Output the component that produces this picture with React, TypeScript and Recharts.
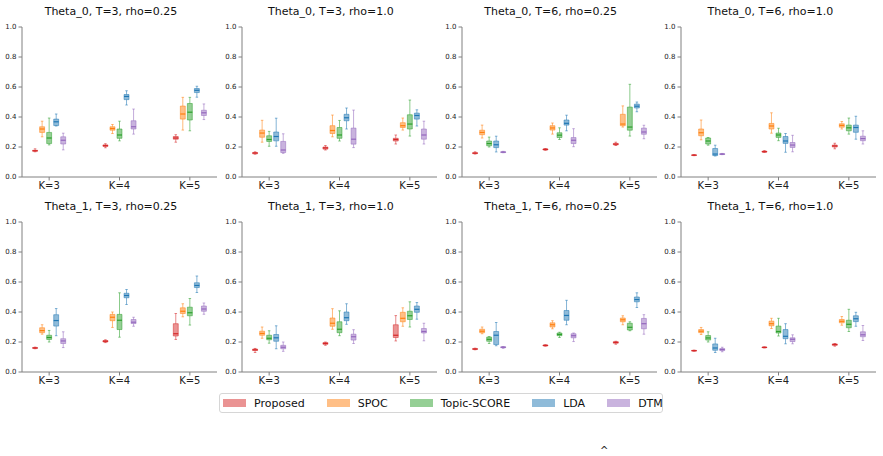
import React from 'react';
import {
  ComposedChart,
  XAxis,
  YAxis,
  Scatter,
  ReferenceArea,
  ReferenceLine,
} from 'recharts';

// methods, colours and axis labels
const methods = ['Proposed', 'SPOC', 'Topic-SCORE', 'LDA', 'DTM'];
const colors = ['#d62728', '#ff7f0e', '#2ca02c', '#1f77b4', '#9467bd'];
const kLabels = ['K=3', 'K=4', 'K=5'];
const yTicks = [0, 0.2, 0.4, 0.6, 0.8, 1.0];

// box stats per K group: one [min, q1, median, q3, max] per method
const theta0_T3_rho025 = [
  [[0.168, 0.172, 0.175, 0.178, 0.188], [0.268, 0.297, 0.32, 0.335, 0.372], [0.214, 0.223, 0.26, 0.297, 0.393], [0.34, 0.343, 0.368, 0.386, 0.42], [0.181, 0.22, 0.245, 0.268, 0.292]],
  [[0.195, 0.204, 0.209, 0.214, 0.222], [0.29, 0.312, 0.323, 0.335, 0.35], [0.241, 0.258, 0.28, 0.32, 0.372], [0.48, 0.516, 0.537, 0.55, 0.575], [0.286, 0.32, 0.335, 0.375, 0.453]],
  [[0.232, 0.252, 0.26, 0.27, 0.282], [0.313, 0.386, 0.42, 0.473, 0.531], [0.308, 0.38, 0.432, 0.49, 0.531], [0.532, 0.563, 0.578, 0.59, 0.605], [0.383, 0.41, 0.428, 0.445, 0.487]],
];
const theta0_T3_rho10 = [
  [[0.152, 0.155, 0.16, 0.163, 0.168], [0.232, 0.265, 0.293, 0.313, 0.378], [0.205, 0.237, 0.25, 0.275, 0.304], [0.205, 0.241, 0.27, 0.3, 0.392], [0.158, 0.163, 0.18, 0.237, 0.288]],
  [[0.18, 0.186, 0.194, 0.2, 0.21], [0.268, 0.29, 0.31, 0.342, 0.413], [0.24, 0.258, 0.28, 0.33, 0.377], [0.32, 0.375, 0.395, 0.418, 0.46], [0.196, 0.219, 0.252, 0.326, 0.446]],
  [[0.22, 0.24, 0.25, 0.258, 0.28], [0.313, 0.33, 0.342, 0.362, 0.393], [0.273, 0.32, 0.353, 0.415, 0.513], [0.34, 0.386, 0.41, 0.426, 0.448], [0.22, 0.252, 0.28, 0.32, 0.372]],
];
const theta0_T6_rho025 = [
  [[0.153, 0.156, 0.159, 0.162, 0.168], [0.26, 0.282, 0.297, 0.312, 0.346], [0.2, 0.208, 0.223, 0.24, 0.266], [0.167, 0.196, 0.215, 0.24, 0.272], [0.162, 0.163, 0.166, 0.168, 0.171]],
  [[0.178, 0.18, 0.184, 0.187, 0.19], [0.286, 0.313, 0.327, 0.342, 0.36], [0.25, 0.263, 0.279, 0.295, 0.328], [0.308, 0.346, 0.358, 0.38, 0.412], [0.202, 0.223, 0.245, 0.263, 0.322]],
  [[0.21, 0.214, 0.219, 0.224, 0.232], [0.333, 0.342, 0.353, 0.418, 0.474], [0.273, 0.312, 0.333, 0.466, 0.618], [0.435, 0.46, 0.472, 0.486, 0.5], [0.255, 0.285, 0.3, 0.326, 0.345]],
];
const theta0_T6_rho10 = [
  [[0.142, 0.144, 0.146, 0.147, 0.149], [0.248, 0.275, 0.295, 0.32, 0.38], [0.212, 0.22, 0.24, 0.26, 0.263], [0.14, 0.143, 0.153, 0.19, 0.212], [0.149, 0.15, 0.153, 0.155, 0.157]],
  [[0.164, 0.166, 0.169, 0.172, 0.176], [0.292, 0.32, 0.34, 0.357, 0.428], [0.242, 0.264, 0.28, 0.293, 0.325], [0.165, 0.224, 0.24, 0.27, 0.29], [0.168, 0.197, 0.213, 0.23, 0.278]],
  [[0.188, 0.2, 0.207, 0.213, 0.225], [0.32, 0.332, 0.344, 0.355, 0.37], [0.286, 0.308, 0.328, 0.346, 0.393], [0.252, 0.298, 0.33, 0.346, 0.405], [0.22, 0.242, 0.256, 0.272, 0.308]],
];
const theta1_T3_rho025 = [
  [[0.155, 0.158, 0.16, 0.163, 0.166], [0.252, 0.262, 0.276, 0.295, 0.315], [0.2, 0.217, 0.23, 0.245, 0.277], [0.242, 0.306, 0.343, 0.382, 0.423], [0.163, 0.19, 0.207, 0.222, 0.268]],
  [[0.196, 0.2, 0.205, 0.21, 0.215], [0.297, 0.342, 0.365, 0.384, 0.4], [0.232, 0.283, 0.345, 0.384, 0.528], [0.45, 0.495, 0.51, 0.525, 0.55], [0.305, 0.323, 0.332, 0.35, 0.365]],
  [[0.217, 0.24, 0.255, 0.322, 0.39], [0.368, 0.39, 0.405, 0.428, 0.455], [0.313, 0.375, 0.395, 0.432, 0.49], [0.53, 0.563, 0.577, 0.595, 0.64], [0.385, 0.405, 0.42, 0.44, 0.46]],
];
const theta1_T3_rho10 = [
  [[0.13, 0.143, 0.148, 0.153, 0.157], [0.225, 0.245, 0.257, 0.272, 0.3], [0.192, 0.215, 0.225, 0.245, 0.275], [0.155, 0.205, 0.228, 0.25, 0.308], [0.138, 0.155, 0.165, 0.178, 0.2]],
  [[0.178, 0.185, 0.19, 0.196, 0.2], [0.285, 0.305, 0.325, 0.36, 0.422], [0.242, 0.262, 0.285, 0.335, 0.408], [0.318, 0.342, 0.362, 0.4, 0.455], [0.19, 0.213, 0.235, 0.252, 0.282]],
  [[0.207, 0.23, 0.245, 0.315, 0.376], [0.305, 0.335, 0.358, 0.398, 0.428], [0.3, 0.35, 0.375, 0.405, 0.468], [0.352, 0.398, 0.418, 0.44, 0.463], [0.208, 0.26, 0.27, 0.29, 0.325]],
];
const theta1_T6_rho025 = [
  [[0.148, 0.151, 0.153, 0.156, 0.159], [0.255, 0.262, 0.272, 0.285, 0.3], [0.19, 0.205, 0.218, 0.233, 0.236], [0.175, 0.183, 0.245, 0.27, 0.33], [0.158, 0.162, 0.165, 0.168, 0.17]],
  [[0.172, 0.174, 0.177, 0.18, 0.182], [0.288, 0.3, 0.315, 0.328, 0.342], [0.23, 0.242, 0.25, 0.26, 0.265], [0.315, 0.345, 0.377, 0.41, 0.478], [0.203, 0.228, 0.242, 0.255, 0.26]],
  [[0.185, 0.192, 0.197, 0.202, 0.205], [0.315, 0.335, 0.348, 0.36, 0.375], [0.275, 0.28, 0.298, 0.325, 0.335], [0.43, 0.468, 0.483, 0.5, 0.528], [0.252, 0.288, 0.322, 0.357, 0.382]],
];
const theta1_T6_rho10 = [
  [[0.139, 0.14, 0.142, 0.144, 0.146], [0.25, 0.262, 0.272, 0.283, 0.297], [0.2, 0.213, 0.227, 0.243, 0.268], [0.13, 0.145, 0.16, 0.187, 0.225], [0.135, 0.143, 0.15, 0.156, 0.165]],
  [[0.16, 0.162, 0.164, 0.166, 0.168], [0.29, 0.308, 0.322, 0.339, 0.358], [0.24, 0.26, 0.27, 0.306, 0.358], [0.188, 0.222, 0.238, 0.283, 0.322], [0.188, 0.203, 0.218, 0.228, 0.248]],
  [[0.172, 0.178, 0.183, 0.187, 0.19], [0.312, 0.328, 0.338, 0.35, 0.37], [0.27, 0.295, 0.318, 0.345, 0.418], [0.305, 0.336, 0.355, 0.375, 0.398], [0.21, 0.235, 0.248, 0.268, 0.31]],
];

const panels = [
  { title: 'Theta_0, T=3, rho=0.25', stats: theta0_T3_rho025 },
  { title: 'Theta_0, T=3, rho=1.0', stats: theta0_T3_rho10 },
  { title: 'Theta_0, T=6, rho=0.25', stats: theta0_T6_rho025 },
  { title: 'Theta_0, T=6, rho=1.0', stats: theta0_T6_rho10 },
  { title: 'Theta_1, T=3, rho=0.25', stats: theta1_T3_rho025 },
  { title: 'Theta_1, T=3, rho=1.0', stats: theta1_T3_rho10 },
  { title: 'Theta_1, T=6, rho=0.25', stats: theta1_T6_rho025 },
  { title: 'Theta_1, T=6, rho=1.0', stats: theta1_T6_rho10 },
];

const W = 220;
const H = 195;
const X_DOMAIN: [number, number] = [0.614, 3.386];
const SPREAD = 0.1;
const HALF = 0.035;
const CAP = 0.018;
const FONT = '"DejaVu Sans", sans-serif';
const FRAME = '#808080';

const MedianMark = (props: any) => {
  const { cx, cy, fill } = props;
  if (cx == null || cy == null) return null;
  return <line x1={cx - 2.5} x2={cx + 2.5} y1={cy} y2={cy} stroke={fill} strokeWidth={1.2} />;
};

function Panel({ title, stats, left, top }: { title: string; stats: number[][][]; left: number; top: number }) {
  const series = methods.map((_, mi) =>
    stats.map((group, ki) => {
      const [lo, q1, med, q3, hi] = group[mi];
      return { x: ki + 1 + (mi - 2) * SPREAD, lo, q1, med, q3, hi };
    })
  );

  const marks: React.ReactElement[] = [];
  series.forEach((pts, mi) => {
    const c = colors[mi];
    pts.forEach((p, ki) => {
      const k = `${mi}-${ki}`;
      marks.push(
        <ReferenceLine key={`wl${k}`} segment={[{ x: p.x, y: p.lo }, { x: p.x, y: p.q1 }]} stroke={c} strokeOpacity={0.55} />,
        <ReferenceLine key={`wh${k}`} segment={[{ x: p.x, y: p.q3 }, { x: p.x, y: p.hi }]} stroke={c} strokeOpacity={0.55} />,
        <ReferenceLine key={`cl${k}`} segment={[{ x: p.x - CAP, y: p.lo }, { x: p.x + CAP, y: p.lo }]} stroke={c} strokeOpacity={0.55} />,
        <ReferenceLine key={`ch${k}`} segment={[{ x: p.x - CAP, y: p.hi }, { x: p.x + CAP, y: p.hi }]} stroke={c} strokeOpacity={0.55} />,
        <ReferenceArea key={`b${k}`} x1={p.x - HALF} x2={p.x + HALF} y1={p.q1} y2={p.q3} fill={c} fillOpacity={0.5} stroke={c} strokeOpacity={0.5} />
      );
    });
  });

  return (
    <div style={{ position: 'absolute', left, top, width: W, height: H }}>
      <div
        style={{
          position: 'absolute',
          left: 0,
          width: 222,
          top: 5,
          textAlign: 'center',
          fontFamily: FONT,
          fontSize: 11,
          color: '#111',
          whiteSpace: 'nowrap',
        }}
      >
        {title}
      </div>
      <ComposedChart width={W} height={H} margin={{ top: 27, right: 3, bottom: 0, left: 0 }}>
        <XAxis
          type="number"
          dataKey="x"
          domain={X_DOMAIN}
          allowDataOverflow
          ticks={[1, 2, 3]}
          tickFormatter={(v: number) => kLabels[v - 1]}
          height={18}
          stroke={FRAME}
          tickSize={3.5}
          tickMargin={1}
          tick={{ fontSize: 10, fill: '#222', fontFamily: FONT }}
        />
        <XAxis xAxisId="top" orientation="top" type="number" domain={X_DOMAIN} allowDataOverflow tick={false} tickLine={false} height={0} stroke={FRAME} />
        <YAxis
          type="number"
          dataKey="med"
          domain={[0, 1]}
          allowDataOverflow
          ticks={yTicks}
          tickFormatter={(v: number) => v.toFixed(1)}
          width={22}
          stroke={FRAME}
          tickSize={3.5}
          tickMargin={2}
          tick={{ fontSize: 7, fill: '#222', fontFamily: FONT }}
        />
        <YAxis yAxisId="right" orientation="right" type="number" domain={[0, 1]} allowDataOverflow tick={false} tickLine={false} width={0} stroke={FRAME} />
        {marks}
        {series.map((pts, mi) => (
          <Scatter
            key={methods[mi]}
            name={methods[mi]}
            data={pts}
            dataKey="med"
            fill={colors[mi]}
            shape={MedianMark}
            isAnimationActive={false}
          />
        ))}
      </ComposedChart>
    </div>
  );
}

function LegendBox() {
  return (
    <div
      style={{
        position: 'absolute',
        left: 219,
        top: 393,
        width: 444,
        height: 20,
        border: '1px solid #d6d6d6',
        borderRadius: 3,
        display: 'flex',
        alignItems: 'center',
        fontFamily: FONT,
        fontSize: 11,
        color: '#111',
        boxSizing: 'border-box',
        paddingLeft: 3,
        whiteSpace: 'nowrap',
      }}
    >
      {methods.map((m, i) => (
        <div key={m} style={{ display: 'flex', alignItems: 'center', flexShrink: 0, marginRight: i < methods.length - 1 ? 22 : 0 }}>
          <span style={{ display: 'inline-block', width: 23, height: 8, background: colors[i], opacity: 0.5, marginRight: 8 }} />
          <span>{m}</span>
        </div>
      ))}
    </div>
  );
}

export default function App() {
  return (
    <div style={{ position: 'absolute', left: 0, top: 0, width: 883, height: 456, background: '#fff', overflow: 'hidden' }}>
      {panels.map((p, i) => (
        <Panel key={p.title} title={p.title} stats={p.stats} left={(i % 4) * 219.8} top={Math.floor(i / 4) * H} />
      ))}
      <LegendBox />
      <div style={{ position: 'absolute', left: 600, top: 446, height: 9, lineHeight: '9px', fontFamily: FONT, fontSize: 10, color: '#222' }}>^</div>
    </div>
  );
}
